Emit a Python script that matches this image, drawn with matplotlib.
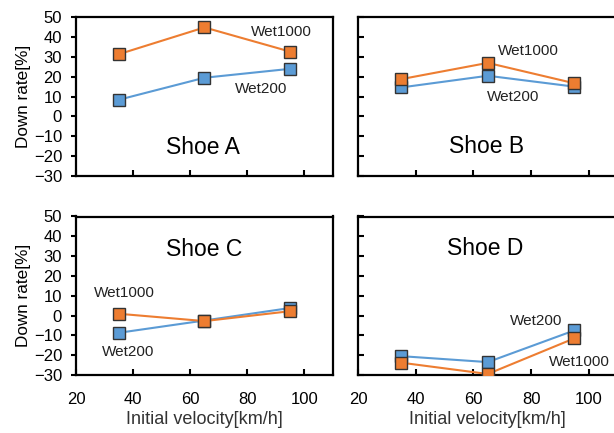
import numpy as np
import matplotlib
matplotlib.use("Agg")
import matplotlib.pyplot as plt

plt.rcParams['font.family'] = ['Liberation Sans', 'DejaVu Sans']

# initial velocity [km/h]
velocity = [35, 65, 95]

# down rate [%] per shoe
shoe_names = ["Shoe A", "Shoe B", "Shoe C", "Shoe D"]
wet200 = {
    "Shoe A": [8.4, 19.5, 24.0],
    "Shoe B": [14.6, 20.5, 15.0],
    "Shoe C": [-8.7, -2.5, 3.8],
    "Shoe D": [-20.5, -23.5, -7.5],
}
wet1000 = {
    "Shoe A": [31.4, 44.9, 32.7],
    "Shoe B": [18.8, 27.0, 16.7],
    "Shoe C": [0.9, -2.8, 2.2],
    "Shoe D": [-23.8, -29.5, -11.5],
}

x_ticks = [20, 40, 60, 80, 100]
y_ticks = [-30, -20, -10, 0, 10, 20, 30, 40, 50]

blue = '#5B9BD5'
orange = '#ED7D31'

# (left, bottom) of each panel in figure fraction, and text spots
panel_pos = {
    "Shoe A": (0.124, 0.594),
    "Shoe B": (0.583, 0.594),
    "Shoe C": (0.124, 0.134),
    "Shoe D": (0.583, 0.134),
}
title_xy = {
    "Shoe A": (64.5, -15.5),
    "Shoe B": (64.5, -15.0),
    "Shoe C": (65.0, 33.2),
    "Shoe D": (64.0, 33.8),
}
lab1000_xy = {
    "Shoe A": (91.8, 42.6),
    "Shoe B": (79.0, 33.0),
    "Shoe C": (37.0, 11.5),
    "Shoe D": (96.7, -23.3),
}
lab200_xy = {
    "Shoe A": (84.7, 13.7),
    "Shoe B": (73.8, 9.8),
    "Shoe C": (38.2, -18.2),
    "Shoe D": (81.6, -2.8),
}

fig = plt.figure(figsize=(6.14, 4.33), dpi=100)
W, H = 0.418, 0.366

for name in shoe_names:
    left, bottom = panel_pos[name]
    right = name in ("Shoe B", "Shoe D")
    top = name in ("Shoe A", "Shoe B")
    # right-hand panels run a little past the figure edge, as in the original
    ax = fig.add_axes([left, bottom, W + (0.005 if right else 0), H])
    ax.plot(velocity, wet200[name], '-s', color=blue, lw=1.5, markersize=8,
            markerfacecolor=blue, markeredgecolor='#333333', markeredgewidth=1, zorder=3)
    ax.plot(velocity, wet1000[name], '-s', color=orange, lw=1.5, markersize=8,
            markerfacecolor=orange, markeredgecolor='#333333', markeredgewidth=1, zorder=4)
    ax.set_xlim(20, 110)
    ax.set_ylim(-30, 50)
    ax.set_xticks(x_ticks)
    ax.set_yticks(y_ticks)
    ax.tick_params(axis='x', direction='in', length=4, width=1.5, labelsize=12, pad=12)
    for s in ax.spines.values():
        s.set_linewidth(1.6)

    if top:
        ax.tick_params(labelbottom=False)
    else:
        ax.set_xlabel("Initial velocity[km/h]", fontsize=13, color='#333333', labelpad=3)
    if right:
        ax.tick_params(axis='y', direction='in', length=4, width=1.5, labelleft=False)
    else:
        ax.tick_params(axis='y', direction='out', length=3.6, width=1.5, labelsize=12, pad=6.5)
        ax.set_ylabel("Down rate[%]", fontsize=12.3, labelpad=2)

    tx, ty = title_xy[name]
    ax.text(tx, ty, name, fontsize=16.5, ha='center', va='center')
    x1, y1 = lab1000_xy[name]
    ax.text(x1, y1, "Wet1000", fontsize=11, ha='center', va='center', color='#222222')
    x2, y2 = lab200_xy[name]
    ax.text(x2, y2, "Wet200", fontsize=11, ha='center', va='center', color='#222222')

fig.savefig("out.png", dpi=100)
